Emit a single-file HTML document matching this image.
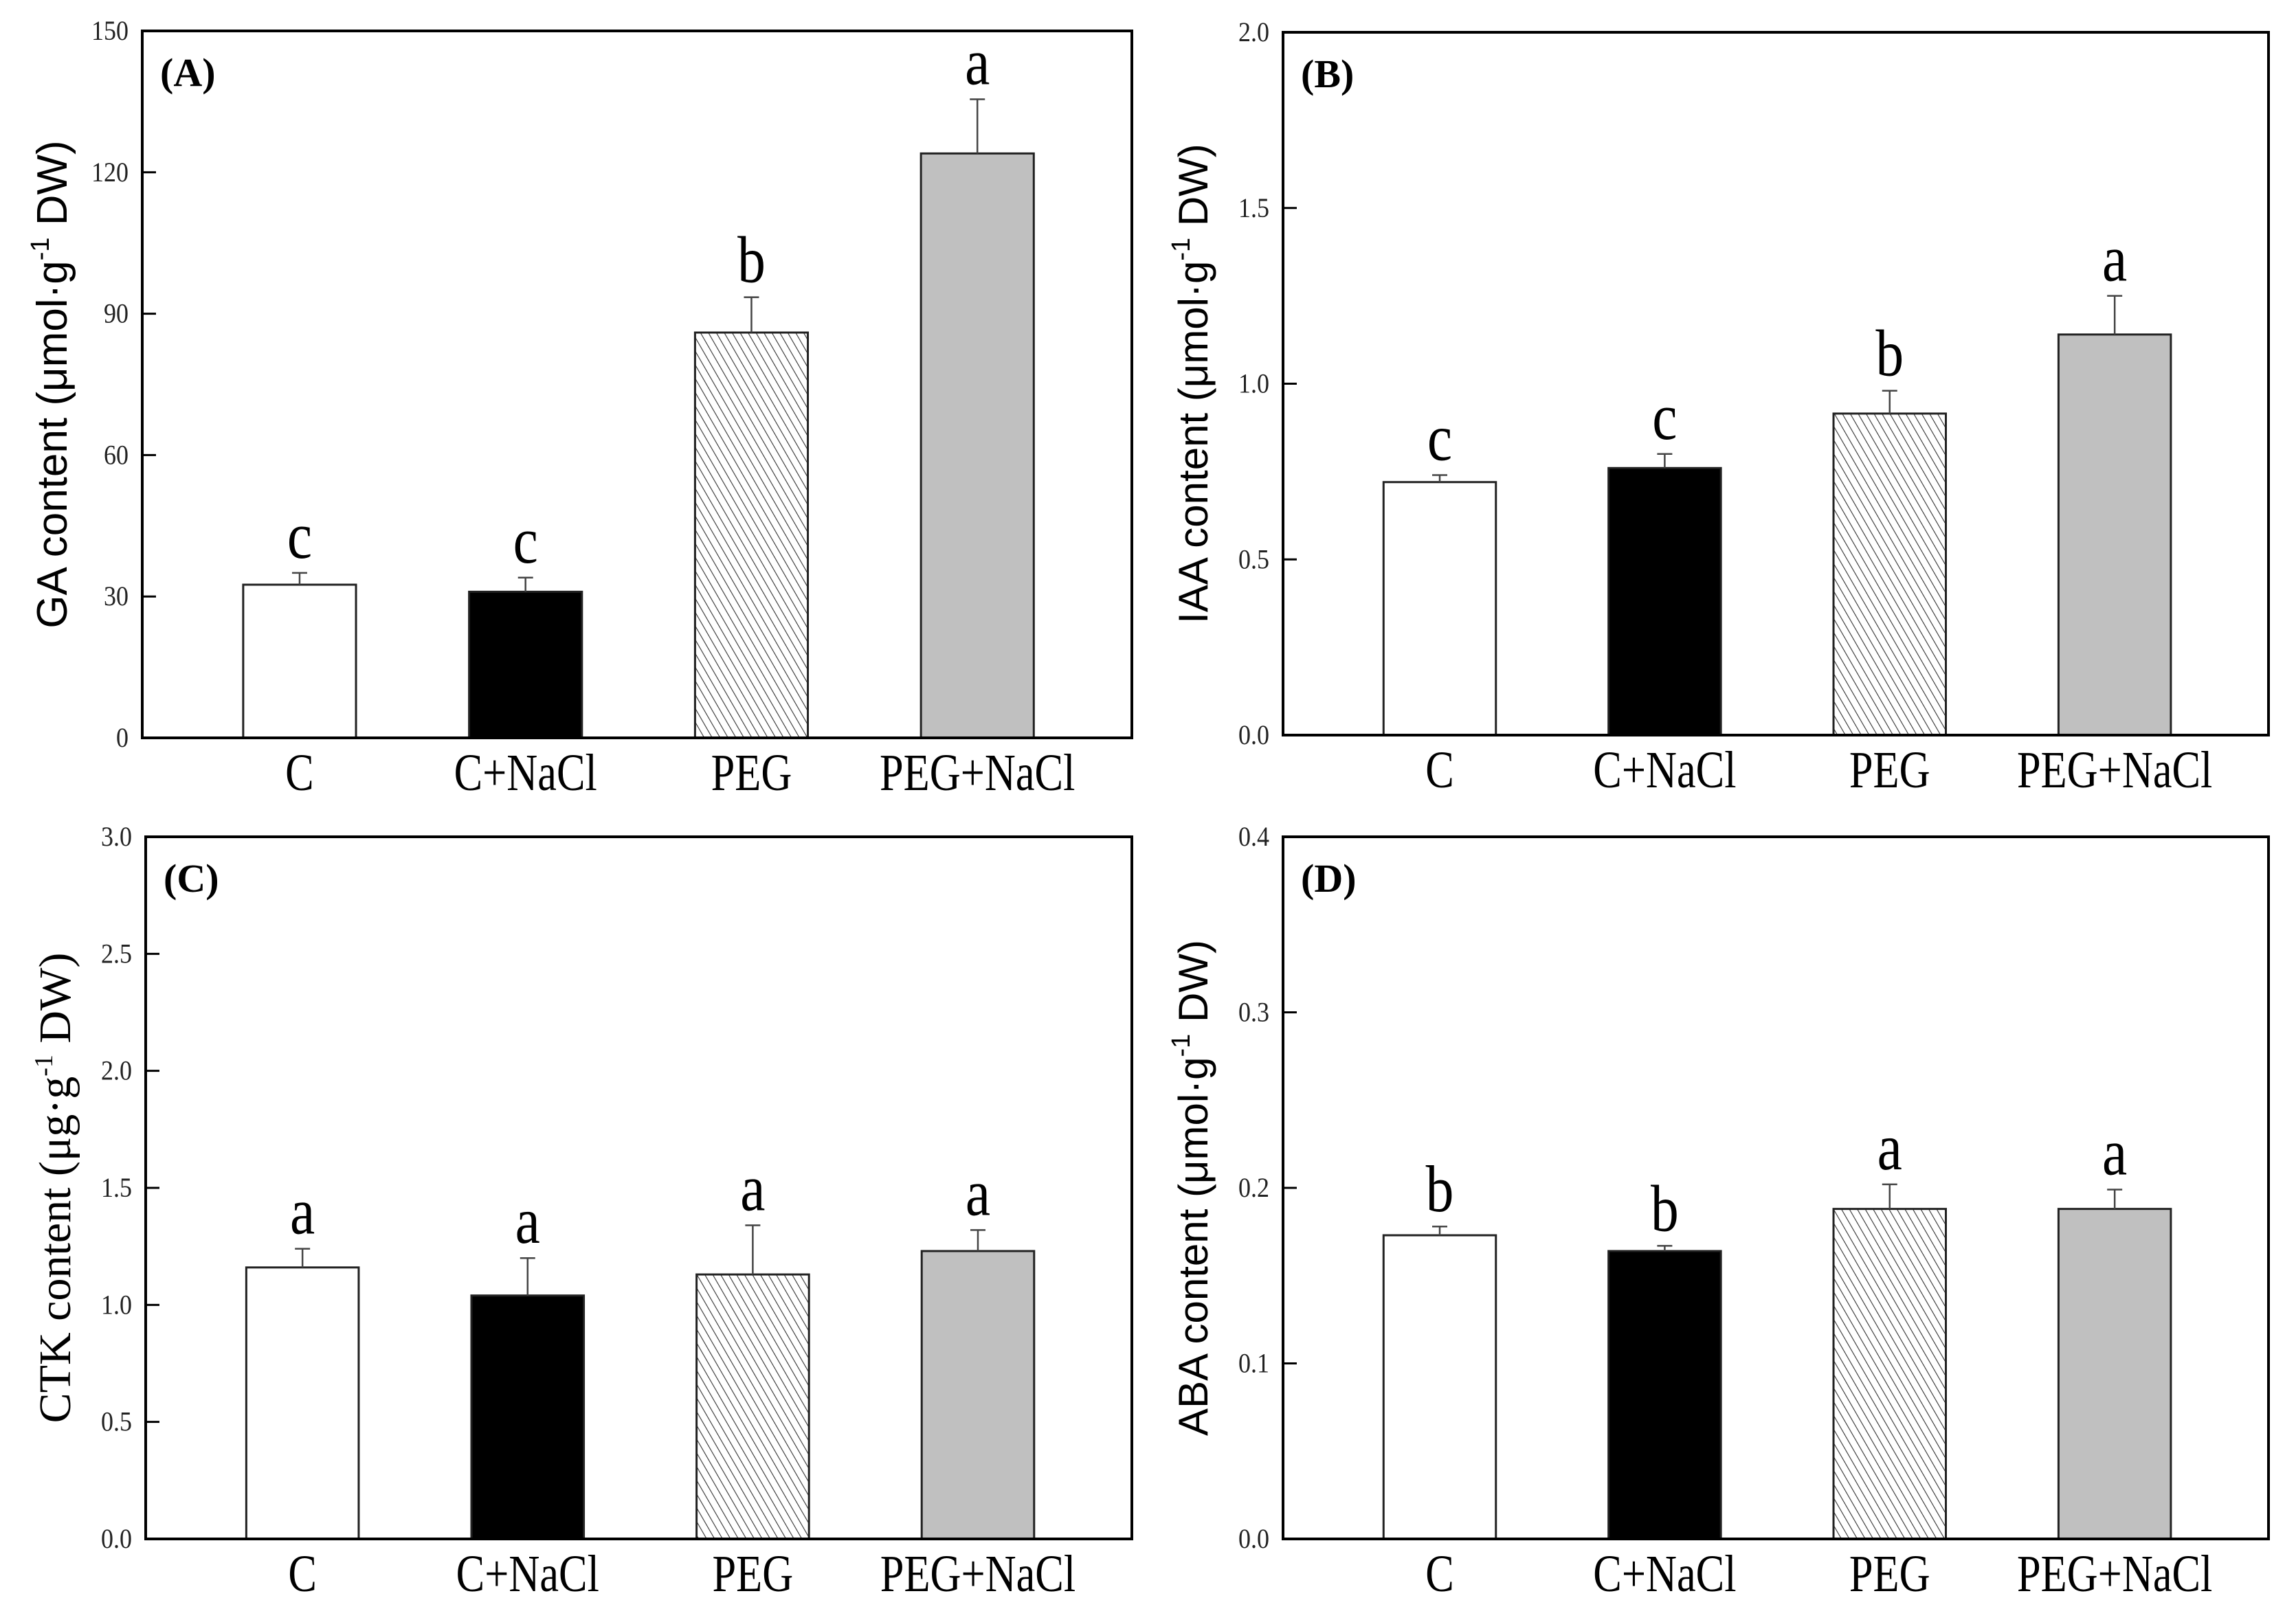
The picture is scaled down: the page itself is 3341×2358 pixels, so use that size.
<!DOCTYPE html>
<html><head><meta charset="utf-8"><style>
html,body{margin:0;padding:0;background:#fff;}
svg{display:block;}
</style></head><body>
<svg id="fig" width="3341" height="2358" viewBox="0 0 3341 2358" xmlns="http://www.w3.org/2000/svg">
<defs>
<pattern id="hatch" patternUnits="userSpaceOnUse" width="10" height="10" patternTransform="rotate(-30)">
<rect width="10" height="10" fill="#fff"/>
<line x1="0" y1="0" x2="0" y2="10" stroke="#333" stroke-width="2.2"/>
</pattern>
</defs>
</svg>
<script>
const categories = ["C", "C+NaCl", "PEG", "PEG+NaCl"];
const gaValues = [32.5, 31, 86, 124];
const gaErrors = [2.5, 3, 7.5, 11.5];
const gaLetters = ["c", "c", "b", "a"];
const gaTicks = ["0", "30", "60", "90", "120", "150"];
const iaaValues = [0.72, 0.76, 0.915, 1.14];
const iaaErrors = [0.02, 0.04, 0.065, 0.11];
const iaaLetters = ["c", "c", "b", "a"];
const iaaTicks = ["0.0", "0.5", "1.0", "1.5", "2.0"];
const ctkValues = [1.16, 1.04, 1.13, 1.23];
const ctkErrors = [0.08, 0.16, 0.21, 0.09];
const ctkLetters = ["a", "a", "a", "a"];
const ctkTicks = ["0.0", "0.5", "1.0", "1.5", "2.0", "2.5", "3.0"];
const abaValues = [0.173, 0.164, 0.188, 0.188];
const abaErrors = [0.005, 0.003, 0.014, 0.011];
const abaLetters = ["b", "b", "a", "a"];
const abaTicks = ["0.0", "0.1", "0.2", "0.3", "0.4"];

const NS = "http://www.w3.org/2000/svg";
const svg = document.getElementById("fig");
function mk(tag, attrs, parent) {
  const e = document.createElementNS(NS, tag);
  for (const k in attrs) e.setAttribute(k, attrs[k]);
  (parent || svg).appendChild(e);
  return e;
}
const fills = ["#ffffff", "#000000", "url(#hatch)", "#c0c0c0"];
const serif = '"Liberation Serif", serif';
const sans = '"Liberation Sans", sans-serif';

function panel(id, box, values, errors, letters, ticks, tagLabel, titleParts, titleFont, titleSize) {
  const g = mk("g", {});
  
  
  const L = box[0], R = box[1], T = box[2], B = box[3];
  const W = R - L;
  const maxV = parseFloat(ticks[ticks.length - 1]);
  const y = v => B - v / maxV * (B - T);
  const xc = i => L + W * (0.159 + 0.2283 * i);
  const bw = W * 0.114;
  ticks.forEach(t => {
    const v = parseFloat(t);
    const yy = y(v);
    if (v > 0 && v < maxV) {
      const tk = mk("line", {x1: L, x2: L + 20, y1: yy, y2: yy, stroke: "#000", "stroke-width": 3}, g);
      
      
    }
    const tl = mk("text", {x: 0, y: 0, "font-family": serif, "font-size": 40, "text-anchor": "end", fill: "#222",
      transform: "translate(" + (L - 20) + "," + (yy + 13) + ") scale(0.9,1)"}, g);
    tl.textContent = t;
    
    
  });
  values.forEach((v, i) => {
    const x0 = xc(i) - bw / 2;
    const r = mk("rect", {x: x0, y: y(v), width: bw, height: B - y(v), fill: fills[i], stroke: "#222", "stroke-width": 3}, g);
    
    
    const et = y(v + errors[i]);
    const el = mk("line", {x1: xc(i), x2: xc(i), y1: y(v), y2: et, stroke: "#444", "stroke-width": 2.5}, g);
    
    
    const ec = mk("line", {x1: xc(i) - 11, x2: xc(i) + 11, y1: et, y2: et, stroke: "#444", "stroke-width": 2.5}, g);
    
    
    const lt = mk("text", {x: 0, y: 0, "font-family": serif, "font-size": 96, "text-anchor": "middle", fill: "#000",
      transform: "translate(" + xc(i) + "," + (et - 22) + ") scale(0.85,1)"}, g);
    lt.textContent = letters[i];
    
    
    const cl = mk("text", {x: 0, y: 0, "font-family": serif, "font-size": 76, "text-anchor": "middle", fill: "#000",
      transform: "translate(" + xc(i) + "," + (B + 76) + ") scale(0.82,1)"}, g);
    cl.textContent = categories[i];
    
    
  });
  const fr = mk("rect", {x: L, y: T, width: W, height: B - T, fill: "none", stroke: "#000", "stroke-width": 4}, g);
  
  
  const tg = mk("text", {x: L + 26, y: T + 80, "font-family": serif, "font-size": 58, "font-weight": "bold", fill: "#000"}, g);
  tg.textContent = tagLabel;
  
  
  const cy = (T + B) / 2;
  const yt = mk("text", {x: 0, y: 0, "font-family": titleFont, "font-size": titleSize, "text-anchor": "middle", fill: "#000",
    transform: "translate(" + (L - 110) + "," + cy + ") rotate(-90)"}, g);
  
  
  const s1 = mk("tspan", {}, yt); s1.textContent = titleParts[0];
  const s2 = mk("tspan", {dy: -26, "font-size": 38}, yt); s2.textContent = "-1";
  const s3 = mk("tspan", {dy: 26}, yt); s3.textContent = " DW)";
}

panel("ga", [207, 1647, 45, 1074], gaValues, gaErrors, gaLetters, gaTicks, "(A)", ["GA content (μmol·g"], sans, 62);
panel("iaa", [1867, 3301, 47, 1070], iaaValues, iaaErrors, iaaLetters, iaaTicks, "(B)", ["IAA content (μmol·g"], sans, 60);
panel("ctk", [212, 1647, 1218, 2240], ctkValues, ctkErrors, ctkLetters, ctkTicks, "(C)", ["CTK content (μg·g"], serif, 66);
panel("aba", [1867, 3301, 1218, 2240], abaValues, abaErrors, abaLetters, abaTicks, "(D)", ["ABA content (μmol·g"], sans, 60);
</script>
</body></html>
